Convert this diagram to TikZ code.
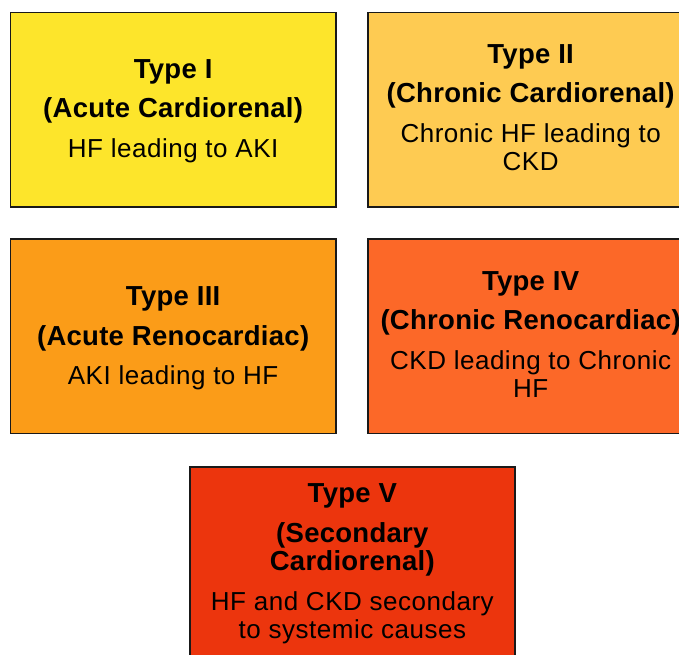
\documentclass[tikz,border=0pt]{standalone}
\usepackage{fontspec}
\setmainfont{Liberation Sans}
\definecolor{c1}{HTML}{FDE52B}
\definecolor{c2}{HTML}{FECB52}
\definecolor{c3}{HTML}{FB9C18}
\definecolor{c4}{HTML}{FC6828}
\definecolor{c5}{HTML}{EC350D}
\newcommand\bodyfont{\fontsize{26}{28}\selectfont\addfontfeature{LetterSpace=2}}
\newcommand\hd[1]{{\fontsize{27.5}{28}\selectfont\bfseries\addfontfeature{LetterSpace=1}#1}}
\begin{document}
\begin{tikzpicture}[x=1pt,y=-1pt,
  box/.style={draw=black!90, line width=1.8pt, minimum width=325.5pt, minimum height=194.3pt, inner sep=0pt, anchor=north west},
  txt/.style={align=center, inner sep=0pt, font=\bodyfont, text=black}]
\useasboundingbox (0,0) rectangle (679,654);
\clip (0,0) rectangle (679,654);
\node[box, fill=c1] (b1) at (9.5,11.5) {};
\node[box, fill=c2] (b2) at (367,11.5) {};
\node[box, fill=c3] (b3) at (9.5,238.3) {};
\node[box, fill=c4] (b4) at (367,238.3) {};
\node[box, fill=c5] (b5) at (188.7,465.7) {};
\node[txt] (t1) at ([yshift=-1.5pt]b1.center) {\hd{Type I}\\[11.5pt]\hd{(Acute Cardiorenal)}\\[11.5pt]HF leading to AKI};
\node[txt] (t2) at ([yshift=2pt]b2.center) {\hd{Type II}\\[11.5pt]\hd{(Chronic Cardiorenal)}\\[11.5pt]Chronic HF leading to\\CKD};
\node[txt] (t3) at ([yshift=-2pt]b3.center) {\hd{Type III}\\[11.5pt]\hd{(Acute Renocardiac)}\\[11.5pt]AKI leading to HF};
\node[txt] (t4) at ([yshift=2pt]b4.center) {\hd{Type IV}\\[11.5pt]\hd{(Chronic Renocardiac)}\\[11.5pt]CKD leading to Chronic\\HF};
\node[txt] (t5) at (b5.center) {\hd{Type V}\\[12pt]\hd{(Secondary}\\\hd{Cardiorenal)}\\[12.5pt]HF and CKD secondary\\to systemic causes};
\end{tikzpicture}
\end{document}
